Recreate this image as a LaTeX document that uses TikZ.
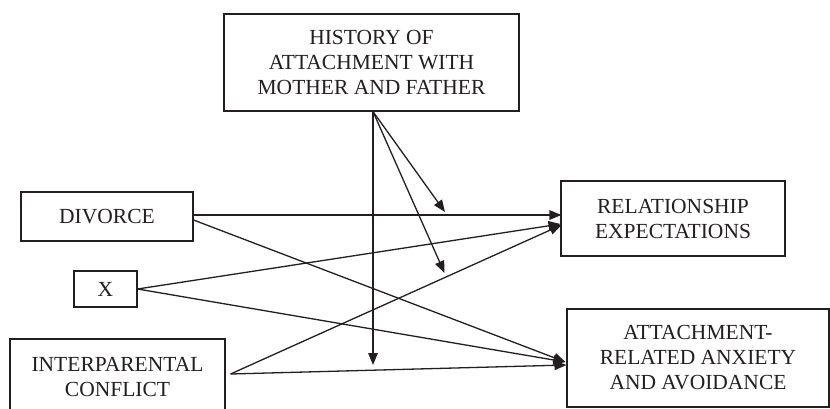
\documentclass[tikz,border=0pt]{standalone}
\usepackage{fontspec}
\setmainfont{Liberation Serif}
\usetikzlibrary{arrows.meta,calc}
\definecolor{ink}{RGB}{35,31,32}
\begin{document}
\begin{tikzpicture}[x=1pt,y=-1pt,
  boxnode/.style={draw=ink,line width=1.1pt,inner sep=0pt,align=center,text=ink,
    font=\fontsize{21.5}{25}\selectfont},
  link/.style={draw=ink,line width=1.3pt,-{Triangle[length=12pt,width=9.5pt]}}]
\clip (0,0) rectangle (830,408);
\fill[white] (0,0) rectangle (830,408);
\node[boxnode,minimum width=295pt,minimum height=97pt] (hist) at (371.5,62.5) {HISTORY OF\\ATTACHMENT WITH\\MOTHER AND FATHER};
\node[boxnode,minimum width=172pt,minimum height=49pt] (div) at (107,216.5) {DIVORCE};
\node[boxnode,minimum width=63pt,minimum height=36pt] (xx) at (105.5,289) {X};
\node[boxnode,minimum width=215pt,minimum height=76pt] (ip) at (117.5,377) {INTERPARENTAL\\CONFLICT};
\node[boxnode,minimum width=224pt,minimum height=75pt] (rel) at (673,218.5) {RELATIONSHIP\\EXPECTATIONS};
\node[boxnode,minimum width=262pt,minimum height=98pt] (att) at (698,358) {ATTACHMENT-\\RELATED ANXIETY\\AND AVOIDANCE};
% connector end points
\coordinate (h0) at ($(hist.south)+(1.5,0)$);
\coordinate (hv) at (373,365);
\coordinate (h1) at (445,212);
\coordinate (h2) at (444.5,273);
\coordinate (d1) at ($(div.east)+(0,-1.5)$);
\coordinate (d2) at ($(div.east)+(0,3.5)$);
\coordinate (x0) at (xx.east);
\coordinate (i0) at ($(ip.east)+(5,-3)$);
\coordinate (r1) at ($(rel.west)+(1,-3.5)$);
\coordinate (r2) at ($(rel.west)+(0,5.5)$);
\coordinate (r3) at ($(rel.west)+(1,6.5)$);
\coordinate (a1) at ($(att.west)+(-1,4)$);
\coordinate (a2) at ($(att.west)+(0,7)$);
\draw[link] (h0) -- (hv);
\draw[link] (h0) -- (h1);
\draw[link] (h0) -- (h2);
\draw[link] (d1) -- (r1);
\draw[link] (d2) -- (a1);
\draw[link] (x0) -- (r2);
\draw[link] (x0) -- (a1);
\draw[link] (i0) -- (r3);
\draw[link] (i0) -- (a2);
\end{tikzpicture}
\end{document}
